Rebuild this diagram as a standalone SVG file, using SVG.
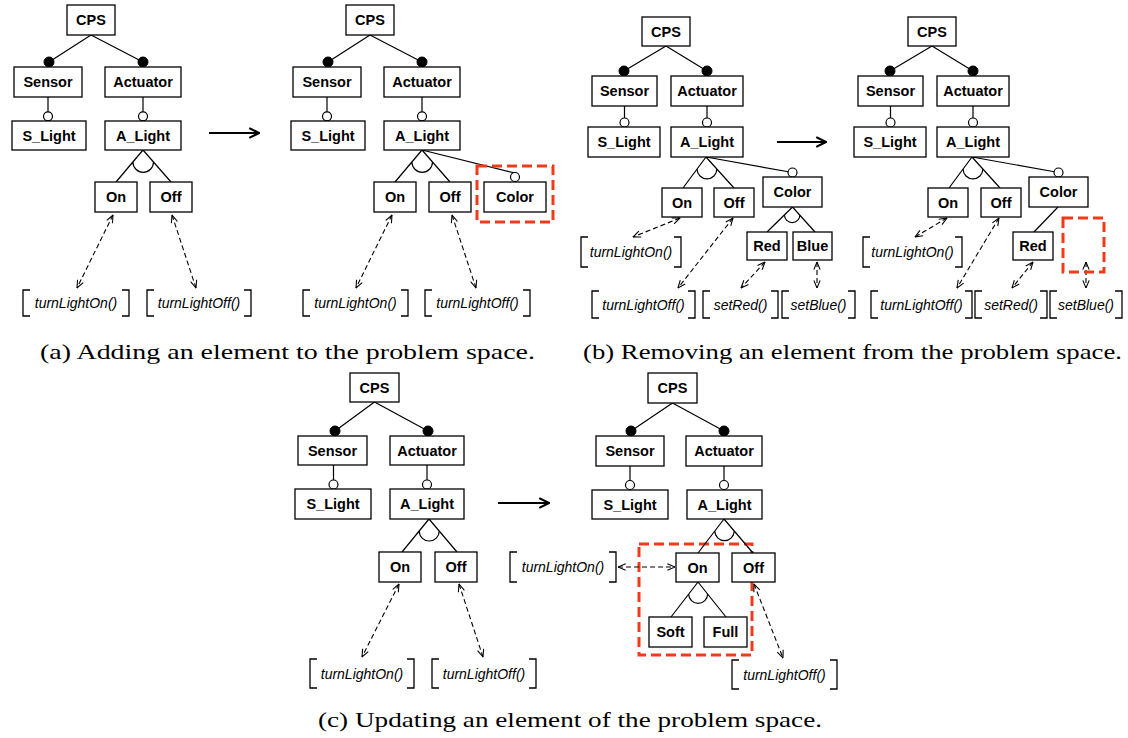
<svg xmlns="http://www.w3.org/2000/svg" width="1128" height="738" viewBox="0 0 1128 738">
<style>
.n rect{fill:#fff;stroke:#000;stroke-width:1.3}
.n text{font-family:"Liberation Sans",Arial,sans-serif;font-weight:bold;font-size:14.5px;text-anchor:middle;fill:#000}
.f path{fill:none;stroke:#000;stroke-width:1.3}
.f text{font-family:"Liberation Sans",Arial,sans-serif;font-style:italic;font-size:14px;text-anchor:middle;fill:#000}
.e{stroke:#000;stroke-width:1.2;fill:none}
.m{fill:#000;stroke:#000;stroke-width:1}
.o{fill:#fff;stroke:#000;stroke-width:1.2}
.d{stroke:#000;stroke-width:1.1;stroke-dasharray:5,3;fill:none;marker-start:url(#oa);marker-end:url(#oa)}
.big{stroke:#000;stroke-width:2.2;marker-end:url(#ba)}
.hl{fill:none;stroke:#f23a1a;stroke-width:3;stroke-dasharray:10,5}
.cap{font-family:"Liberation Serif","DejaVu Serif",serif;font-size:22px;fill:#000}
</style>
<defs>
<marker id="oa" viewBox="0 0 10 10" refX="9.5" refY="5" markerWidth="9" markerHeight="9" markerUnits="userSpaceOnUse" orient="auto-start-reverse"><path d="M1,1.5 L9.5,5 L1,8.5" fill="none" stroke="#000" stroke-width="1.2"/></marker>
<marker id="ba" viewBox="0 0 12 12" refX="11" refY="6" markerWidth="13" markerHeight="13" markerUnits="userSpaceOnUse" orient="auto"><path d="M2,1.5 L11,6 L2,10.5" fill="none" stroke="#000" stroke-width="2"/></marker>
</defs>
<rect width="1128" height="738" fill="#fff"/>

<!-- Panel a, left -->
<g id="panel-a1">
<g id="a1-connectors">
<path class="e" d="M91,35 L49,62 M91,35 L143,62 M48,97 V112 M143,97 V112 M143,150 L116,182 M143,150 L171,182 M132.9,162 A10.3,10.3 0 0 0 153.5,162"/>
<circle class="m" cx="49" cy="62" r="5"/><circle class="m" cx="143" cy="62" r="5"/>
<circle class="o" cx="48" cy="116.3" r="4.5"/><circle class="o" cx="143" cy="116.3" r="4.5"/>
<line class="d" x1="113" y1="215" x2="77" y2="288"/>
<line class="d" x1="172" y1="215" x2="196" y2="288"/>
<line class="big" x1="209" y1="133" x2="259" y2="133"/>
</g>
<g id="a1-cps" class="n"><rect x="67" y="5" width="48" height="30"/><text x="91" y="25">CPS</text></g>
<g id="a1-sensor" class="n"><rect x="14" y="67" width="68" height="30"/><text x="48" y="87">Sensor</text></g>
<g id="a1-actuator" class="n"><rect x="105" y="67" width="76" height="30"/><text x="143" y="87">Actuator</text></g>
<g id="a1-slight" class="n"><rect x="12" y="121" width="74" height="29"/><text x="49" y="140.5">S_Light</text></g>
<g id="a1-alight" class="n"><rect x="105" y="121" width="76" height="29"/><text x="143" y="140.5">A_Light</text></g>
<g id="a1-on" class="n"><rect x="95" y="182" width="42" height="30"/><text x="116" y="202">On</text></g>
<g id="a1-off" class="n"><rect x="150" y="182" width="42" height="30"/><text x="171" y="202">Off</text></g>
<g id="a1-fon" class="f"><path d="M30,290 H23 V316 H30 M122,290 H129 V316 H122"/><text x="76" y="308">turnLightOn()</text></g>
<g id="a1-foff" class="f"><path d="M154,290 H147 V316 H154 M244,290 H251 V316 H244"/><text x="199" y="308">turnLightOff()</text></g>
</g>

<!-- Panel a, right -->
<g id="panel-a2" transform="translate(279,0)">
<g id="a2-connectors">
<path class="e" d="M91,35 L49,62 M91,35 L143,62 M48,97 V112 M143,97 V112 M143,150 L116,182 M143,150 L171,182 M132.9,162 A10.3,10.3 0 0 0 153.5,162 M143,150 L236,173"/>
<circle class="m" cx="49" cy="62" r="5"/><circle class="m" cx="143" cy="62" r="5"/>
<circle class="o" cx="48" cy="116.3" r="4.5"/><circle class="o" cx="143" cy="116.3" r="4.5"/>
<circle class="o" cx="236" cy="177" r="4.5"/>
<line class="d" x1="113" y1="215" x2="77" y2="288"/>
<line class="d" x1="173" y1="215" x2="197" y2="288"/>
</g>
<g id="a2-cps" class="n"><rect x="67" y="5" width="48" height="30"/><text x="91" y="25">CPS</text></g>
<g id="a2-sensor" class="n"><rect x="14" y="67" width="68" height="30"/><text x="48" y="87">Sensor</text></g>
<g id="a2-actuator" class="n"><rect x="105" y="67" width="76" height="30"/><text x="143" y="87">Actuator</text></g>
<g id="a2-slight" class="n"><rect x="12" y="121" width="74" height="29"/><text x="49" y="140.5">S_Light</text></g>
<g id="a2-alight" class="n"><rect x="105" y="121" width="76" height="29"/><text x="143" y="140.5">A_Light</text></g>
<g id="a2-on" class="n"><rect x="95" y="182" width="42" height="30"/><text x="116" y="202">On</text></g>
<g id="a2-off" class="n"><rect x="150" y="182" width="42" height="30"/><text x="171" y="202">Off</text></g>
<g id="a2-color" class="n"><rect x="205" y="182" width="62" height="30"/><text x="236" y="202">Color</text></g>
<rect id="a2-highlight" class="hl" x="198" y="166" width="76" height="56"/>
<g id="a2-fon" class="f"><path d="M31,290 H24 V316 H31 M122,290 H129 V316 H122"/><text x="76.5" y="308">turnLightOn()</text></g>
<g id="a2-foff" class="f"><path d="M153,290 H146 V316 H153 M244,290 H251 V316 H244"/><text x="198.5" y="308">turnLightOff()</text></g>
</g>

<!-- Panel b, left -->
<g id="panel-b1">
<g id="b1-connectors">
<path class="e" d="M666,46 L624,71 M666,46 L707,71 M624.5,106 V118 M707,106 V118 M706,157 L683,188 M706,157 L734,188 M697.1,169 A9.85,9.85 0 0 0 716.8,169 M706,157 L792.5,172.5 M792.5,207 L767,232 M792.5,207 L815,232 M784.5,215 A7.7,7.7 0 0 0 799.9,215"/>
<circle class="m" cx="624" cy="71" r="5"/><circle class="m" cx="707" cy="71" r="5"/>
<circle class="o" cx="624.5" cy="122.5" r="4.5"/><circle class="o" cx="707" cy="122.5" r="4.5"/>
<circle class="o" cx="792.5" cy="172.5" r="4.5"/>
<line class="d" x1="680" y1="218" x2="633" y2="237"/>
<line class="d" x1="733" y1="218" x2="678" y2="288"/>
<line class="d" x1="765" y1="262" x2="741" y2="288"/>
<line class="d" x1="817" y1="262" x2="817" y2="288"/>
<line class="big" x1="777" y1="142" x2="826" y2="142"/>
</g>
<g id="b1-cps" class="n"><rect x="642" y="17" width="48" height="29"/><text x="666" y="37">CPS</text></g>
<g id="b1-sensor" class="n"><rect x="592" y="76" width="65" height="30"/><text x="624.5" y="96">Sensor</text></g>
<g id="b1-actuator" class="n"><rect x="671" y="76" width="72" height="30"/><text x="707" y="96">Actuator</text></g>
<g id="b1-slight" class="n"><rect x="588" y="127" width="72" height="30"/><text x="624" y="147">S_Light</text></g>
<g id="b1-alight" class="n"><rect x="671" y="127" width="72" height="30"/><text x="707" y="147">A_Light</text></g>
<g id="b1-on" class="n"><rect x="662" y="188" width="40" height="29"/><text x="682" y="207.5">On</text></g>
<g id="b1-off" class="n"><rect x="714" y="188" width="40" height="29"/><text x="734" y="207.5">Off</text></g>
<g id="b1-color" class="n"><rect x="763" y="177" width="59" height="30"/><text x="792.5" y="197">Color</text></g>
<g id="b1-red" class="n"><rect x="747" y="232" width="40" height="28"/><text x="767" y="251">Red</text></g>
<g id="b1-blue" class="n"><rect x="793" y="232" width="39" height="28"/><text x="812.5" y="251">Blue</text></g>
<g id="b1-fon" class="f"><path d="M588,237 H581 V267 H588 M674,237 H681 V267 H674"/><text x="631" y="257">turnLightOn()</text></g>
<g id="b1-foff" class="f"><path d="M599,291 H592 V318 H599 M688,291 H695 V318 H688"/><text x="643.5" y="309.5">turnLightOff()</text></g>
<g id="b1-fred" class="f"><path d="M710,291 H703 V318 H710 M771,291 H778 V318 H771"/><text x="740.5" y="309.5">setRed()</text></g>
<g id="b1-fblue" class="f"><path d="M789,291 H782 V318 H789 M848,291 H855 V318 H848"/><text x="818.5" y="309.5">setBlue()</text></g>
</g>

<!-- Panel b, right -->
<g id="panel-b2">
<g id="b2-connectors">
<path class="e" d="M932,46 L890,71 M932,46 L973,71 M890.5,106 V118 M973,106 V118 M972,157 L949,188 M972,157 L1000,188 M963.1,169 A9.85,9.85 0 0 0 982.8,169 M972,157 L1058.5,172.5 M1058,207 L1034,232"/>
<circle class="m" cx="890" cy="71" r="5"/><circle class="m" cx="973" cy="71" r="5"/>
<circle class="o" cx="890.5" cy="122.5" r="4.5"/><circle class="o" cx="973" cy="122.5" r="4.5"/>
<circle class="o" cx="1058.5" cy="172.5" r="4.5"/>
<line class="d" x1="947" y1="218" x2="915" y2="237"/>
<line class="d" x1="999" y1="218" x2="957" y2="288"/>
<line class="d" x1="1033" y1="262" x2="1012" y2="288"/>
<line class="d" x1="1086" y1="262" x2="1086" y2="288"/>
</g>
<g id="b2-cps" class="n"><rect x="908" y="17" width="48" height="29"/><text x="932" y="37">CPS</text></g>
<g id="b2-sensor" class="n"><rect x="858" y="76" width="65" height="30"/><text x="890.5" y="96">Sensor</text></g>
<g id="b2-actuator" class="n"><rect x="937" y="76" width="72" height="30"/><text x="973" y="96">Actuator</text></g>
<g id="b2-slight" class="n"><rect x="854" y="127" width="72" height="30"/><text x="890" y="147">S_Light</text></g>
<g id="b2-alight" class="n"><rect x="937" y="127" width="72" height="30"/><text x="973" y="147">A_Light</text></g>
<g id="b2-on" class="n"><rect x="928" y="188" width="40" height="29"/><text x="948" y="207.5">On</text></g>
<g id="b2-off" class="n"><rect x="981" y="188" width="40" height="29"/><text x="1001" y="207.5">Off</text></g>
<g id="b2-color" class="n"><rect x="1029" y="177" width="59" height="30"/><text x="1058.5" y="197">Color</text></g>
<g id="b2-red" class="n"><rect x="1013" y="232" width="40" height="28"/><text x="1033" y="251">Red</text></g>
<rect id="b2-highlight" class="hl" x="1063" y="218" width="41" height="54"/>
<g id="b2-fon" class="f"><path d="M870,237 H863 V267 H870 M955,237 H962 V267 H955"/><text x="912.5" y="257">turnLightOn()</text></g>
<g id="b2-foff" class="f"><path d="M878,291 H871 V318 H878 M965,291 H972 V318 H965"/><text x="921.5" y="309.5">turnLightOff()</text></g>
<g id="b2-fred" class="f"><path d="M982,291 H975 V318 H982 M1040,291 H1047 V318 H1040"/><text x="1011" y="309.5">setRed()</text></g>
<g id="b2-fblue" class="f"><path d="M1057,291 H1050 V318 H1057 M1115,291 H1122 V318 H1115"/><text x="1086" y="309.5">setBlue()</text></g>
</g>

<!-- Panel c, left -->
<g id="panel-c1">
<g id="c1-connectors">
<path class="e" d="M374.5,402 L335,431 M374.5,402 L428,431 M333.5,465 V480 M427,465 V480 M429,519 L402,552 M429,519 L457,552 M419.2,531 A10,10 0 0 0 439.2,531"/>
<circle class="m" cx="335" cy="431" r="5"/><circle class="m" cx="428" cy="431" r="5"/>
<circle class="o" cx="333.5" cy="484.5" r="4.5"/><circle class="o" cx="427" cy="484.5" r="4.5"/>
<line class="d" x1="399" y1="584" x2="362" y2="657"/>
<line class="d" x1="459" y1="584" x2="483" y2="657"/>
<line class="big" x1="498" y1="503" x2="549" y2="503"/>
</g>
<g id="c1-cps" class="n"><rect x="350" y="373" width="49" height="29"/><text x="374.5" y="392.5">CPS</text></g>
<g id="c1-sensor" class="n"><rect x="298" y="436" width="69" height="29"/><text x="332.5" y="455.5">Sensor</text></g>
<g id="c1-actuator" class="n"><rect x="390" y="436" width="74" height="29"/><text x="427" y="455.5">Actuator</text></g>
<g id="c1-slight" class="n"><rect x="295" y="489" width="76" height="30"/><text x="333" y="509">S_Light</text></g>
<g id="c1-alight" class="n"><rect x="390" y="489" width="74" height="30"/><text x="427" y="509">A_Light</text></g>
<g id="c1-on" class="n"><rect x="379" y="552" width="42" height="30"/><text x="400" y="572">On</text></g>
<g id="c1-off" class="n"><rect x="435" y="552" width="42" height="30"/><text x="456" y="572">Off</text></g>
<g id="c1-fon" class="f"><path d="M317,659 H310 V688 H317 M407,659 H414 V688 H407"/><text x="362" y="679">turnLightOn()</text></g>
<g id="c1-foff" class="f"><path d="M439,659 H432 V688 H439 M529,659 H536 V688 H529"/><text x="484" y="679">turnLightOff()</text></g>
</g>

<!-- Panel c, right -->
<g id="panel-c2">
<rect id="c2-highlight" class="hl" x="639" y="544" width="113" height="111"/>
<g id="c2-connectors">
<path class="e" d="M672.5,403 L631,431 M672.5,403 L724,431 M630,466 V480.5 M724,466 V480.5 M724,519 L698,553 M724,519 L753,553 M714.8,531 A9.7,9.7 0 0 0 734.2,531 M698,582 L671,617 M698,582 L726,617 M688.7,594 A9.45,9.45 0 0 0 707.6,594"/>
<circle class="m" cx="631" cy="431" r="5"/><circle class="m" cx="724" cy="431" r="5"/>
<circle class="o" cx="630" cy="485" r="4.5"/><circle class="o" cx="724" cy="485" r="4.5"/>
<line class="d" x1="618" y1="567" x2="675" y2="567"/>
<line class="d" x1="754" y1="584" x2="783" y2="658"/>
</g>
<g id="c2-cps" class="n"><rect x="648" y="373" width="49" height="30"/><text x="672.5" y="393">CPS</text></g>
<g id="c2-sensor" class="n"><rect x="596" y="436" width="68" height="30"/><text x="630" y="456">Sensor</text></g>
<g id="c2-actuator" class="n"><rect x="686" y="436" width="76" height="30"/><text x="724" y="456">Actuator</text></g>
<g id="c2-slight" class="n"><rect x="592" y="490" width="76" height="29"/><text x="630" y="509.5">S_Light</text></g>
<g id="c2-alight" class="n"><rect x="687" y="490" width="75" height="29"/><text x="724.5" y="509.5">A_Light</text></g>
<g id="c2-on" class="n"><rect x="676" y="553" width="43" height="29"/><text x="697.5" y="572.5">On</text></g>
<g id="c2-off" class="n"><rect x="732" y="553" width="43" height="29"/><text x="753.5" y="572.5">Off</text></g>
<g id="c2-soft" class="n"><rect x="649" y="617" width="43" height="30"/><text x="670.5" y="637">Soft</text></g>
<g id="c2-full" class="n"><rect x="704" y="617" width="43" height="30"/><text x="725.5" y="637">Full</text></g>
<g id="c2-fon" class="f"><path d="M517,552 H510 V582 H517 M609,552 H616 V582 H609"/><text x="563" y="572">turnLightOn()</text></g>
<g id="c2-foff" class="f"><path d="M739,660 H732 V689 H739 M830,660 H837 V689 H830"/><text x="784.5" y="680">turnLightOff()</text></g>
</g>

<g id="captions">
<text class="cap" x="40" y="359" textLength="495" lengthAdjust="spacingAndGlyphs">(a) Adding an element to the problem space.</text>
<text class="cap" x="583" y="359" textLength="539" lengthAdjust="spacingAndGlyphs">(b) Removing an element from the problem space.</text>
<text class="cap" x="318" y="727" textLength="504" lengthAdjust="spacingAndGlyphs">(c) Updating an element of the problem space.</text>
</g>
</svg>
